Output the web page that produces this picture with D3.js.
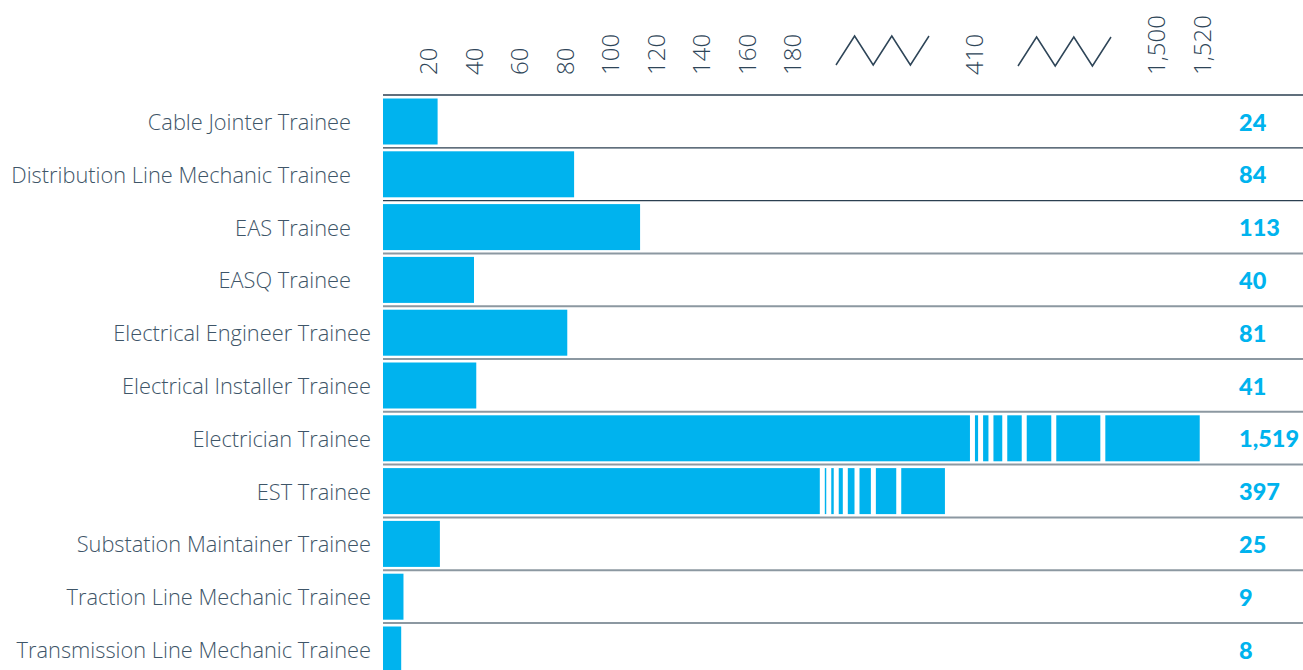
<!DOCTYPE html>
<html lang="en">
	<head>
		<meta charset="utf-8">
		<title>Trainees by trade</title>
		<script type="text/javascript" src="https://cdn.jsdelivr.net/npm/d3@7/dist/d3.min.js"></script>
		<style type="text/css">
			body {
				margin: 0px;
				background: white;
			}
			.rowLabel {
				font-family: "Open Sans", sans-serif;
				font-weight: 300;
				font-size: 21.8px;
				fill: #3e5568;
			}
			.valueLabel {
				font-family: Lato, sans-serif;
				font-weight: 900;
				font-size: 23.5px;
				fill: #00b3ee;
			}
			.axis text {
				font-family: "Open Sans", sans-serif;
				font-weight: 300;
				font-size: 24px;
				fill: #2e4558;
			}
		</style>
	</head>
	<body>
		<div id="chart"></div>
		<script type="text/javascript">
			//Data
			var categories = [
				"Cable Jointer Trainee",
				"Distribution Line Mechanic Trainee",
				"EAS Trainee",
				"EASQ Trainee",
				"Electrical Engineer Trainee",
				"Electrical Installer Trainee",
				"Electrician Trainee",
				"EST Trainee",
				"Substation Maintainer Trainee",
				"Traction Line Mechanic Trainee",
				"Transmission Line Mechanic Trainee"
			];
			var values = [24, 84, 113, 40, 81, 41, 1519, 397, 25, 9, 8];
			//where the solid part of a broken bar stops and the fading stripes begin
			var fadeFrom = [null, null, null, null, null, null, 408, 192, null, null, null];
			var tickValues = [20, 40, 60, 80, 100, 120, 140, 160, 180, 410, 1500, 1520];
			//visible pieces of the broken axis
			var axisPieces = [[0, 200], [390, 430], [1480, 1520]];

			//Overall setup
			var w = 1303;
			var h = 670;
			var marginL = 383;
			var marginT = 95;
			var rowH = 52.8;
			var slot = 45.5;         //px per 20 units
			var breakW = 2 * slot;   //width of a zigzag gap

			var svg = d3.select("#chart")
				.append("svg")
				.attr("width", w)
				.attr("height", h);

			//Piecewise x scale with gaps for the breaks
			var dom = [], rng = [], cursor = marginL;
			axisPieces.forEach(function(p, i) {
				dom.push(p[0], p[1]);
				rng.push(cursor, cursor + (p[1] - p[0]) * slot / 20);
				cursor = rng[rng.length - 1] + breakW;
			});
			var x = d3.scaleLinear().domain(dom).range(rng);

			var y = d3.scaleBand()
				.domain(categories)
				.range([marginT, marginT + categories.length * rowH])
				.padding(0);

			//Row lines
			svg.selectAll("line.row")
				.data(categories)
				.enter()
				.append("line")
				.attr("class", "row")
				.attr("x1", marginL)
				.attr("x2", w)
				.attr("y1", function(d) { return y(d); })
				.attr("y2", function(d) { return y(d); })
				.style("stroke", function(d, i) { return i < 3 ? "#2b3f50" : "#8c98a1"; })
				.style("stroke-width", function(d, i) { return i < 3 ? 1.3 : 2; });

			//Bars
			var barPad = 3.5, barH = 46;
			var bars = svg.selectAll("g.bar")
				.data(categories)
				.enter()
				.append("g")
				.attr("class", "bar")
				.attr("transform", function(d) { return "translate(0," + (y(d) + barPad) + ")"; });

			bars.each(function(d, i) {
				var g = d3.select(this);
				var end = x(values[i]);
				var solidEnd = fadeFrom[i] == null ? end : x(fadeFrom[i]);
				g.append("rect")
					.attr("x", x(0))
					.attr("width", solidEnd - x(0))
					.attr("height", barH)
					.style("fill", "#00b3ee");

				if (fadeFrom[i] != null) {
					//fading stripes across the break
					var weights = [1, 1.7, 2.8, 4.6, 7.8, 14, 30];
					var gap = 5;
					var span = end - solidEnd - gap * weights.length;
					var total = d3.sum(weights);
					var cx = solidEnd;
					weights.forEach(function(wt) {
						cx += gap;
						var sw = span * wt / total;
						g.append("rect")
							.attr("x", cx)
							.attr("width", sw)
							.attr("height", barH)
							.style("fill", "#00b3ee");
						cx += sw;
					});
				}
			});

			//Row labels
			svg.selectAll("text.rowLabel")
				.data(categories)
				.enter()
				.append("text")
				.attr("class", "rowLabel")
				.attr("x", function(d, i) { return i < 4 ? marginL - 32 : marginL - 12; })
				.attr("y", function(d) { return y(d) + rowH / 2 + 1; })
				.attr("dy", "0.35em")
				.style("text-anchor", "end")
				.text(function(d) { return d; });

			//Value labels
			svg.selectAll("text.valueLabel")
				.data(values)
				.enter()
				.append("text")
				.attr("class", "valueLabel")
				.attr("x", 1239)
				.attr("y", function(d, i) { return y(categories[i]) + rowH / 2 + 1; })
				.attr("dy", "0.35em")
				.text(function(d) { return d3.format(",")(d); });

			//Top axis
			var axis = d3.axisTop(x)
				.tickValues(tickValues)
				.tickSize(0)
				.tickFormat(d3.format(","));

			var axisG = svg.append("g")
				.attr("class", "axis")
				.attr("transform", "translate(0," + marginT + ")")
				.call(axis);
			axisG.select(".domain").remove();
			axisG.selectAll("text")
				.attr("transform", "rotate(-90)")
				.attr("x", 20)
				.attr("y", 0)
				.attr("dy", "0.35em")
				.style("text-anchor", "start");

			//Zigzag break marks
			for (var b = 0; b < axisPieces.length - 1; b++) {
				var x0 = x(axisPieces[b][1]) - 2;
				var x1 = x(axisPieces[b + 1][0]);
				var pts = d3.range(6).map(function(k) {
					return [x0 + (x1 - x0) * k / 5, k % 2 == 0 ? 65 + b : 36 + b];
				});
				svg.append("path")
					.attr("d", d3.line()(pts))
					.style("fill", "none")
					.style("stroke", "#2e4558")
					.style("stroke-width", 1.5);
			}
		</script>
	</body>
</html>
